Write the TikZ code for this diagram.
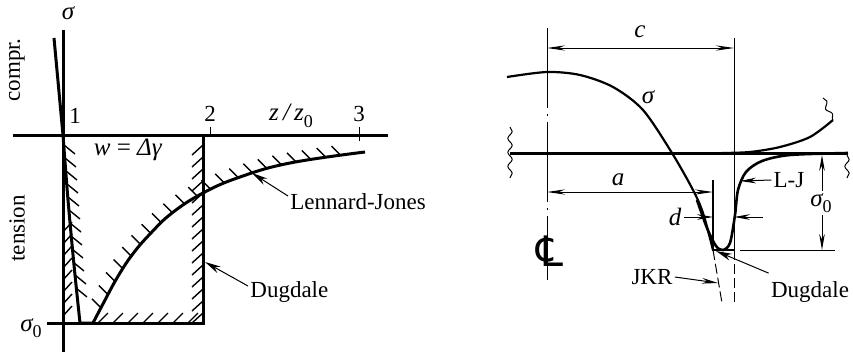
\documentclass[tikz,border=0pt]{standalone}
\usepackage{fontspec}
\setmainfont{Liberation Serif}
\newfontfamily\symfont{DejaVu Sans}
\usetikzlibrary{arrows.meta, decorations.markings, decorations.pathmorphing}

\newcommand{\lowsub}[1]{\raisebox{-0.55ex}{\upshape\small #1}}

\begin{document}
\begin{tikzpicture}[x=0.5pt, y=-0.5pt,
  every node/.style={font=\fontsize{11.5}{13}\selectfont, inner sep=1pt},
  lab/.style={font=\fontsize{12.5}{14}\selectfont\itshape},
  thickline/.style={line width=1.5pt},
  curveline/.style={line width=1.1pt},
  thinline/.style={line width=0.5pt},
  hatch/.style={line width=0.7pt},
  dimline/.style={thinline, {Stealth[length=9pt,width=2.6pt]}-{Stealth[length=9pt,width=2.6pt]}},
  dimarrow/.style={thinline, -{Stealth[length=8pt,width=2.8pt]}},
  leader/.style={thinline, -{Stealth[length=8pt,width=3.6pt]}},
  wavy/.style={thinline, decorate, decoration={snake, amplitude=1.1pt, segment length=7pt}},
]
\useasboundingbox (0,0) rectangle (853,354);

% ---------- Left: stress against separation ----------
\coordinate (sigtop) at (63,30);
\coordinate (sigbot) at (63,352);
\draw[thickline] (sigbot) -- (sigtop);
\node[lab] (sigl) at (68,13) {σ};

\coordinate (zleft) at (13,135);
\coordinate (zright) at (388,135);
\draw[thickline] (zleft) -- (zright);
\draw[thinline] (210,135) -- (210,127);
\draw[thinline] (359,127) -- (359,141);
\node (one) at (75,116) {1};
\node (two) at (210,114) {2};
\node (three) at (359,114) {3};
\node[lab] (zz) at (291,116) {z\,/\,z\lowsub{0}};

\node[rotate=90, anchor=west] (compr) at (17,104) {compr.};
\node[rotate=90, anchor=west] (tens) at (17,264) {tension};
\node[lab] (sig0l) at (31,328) {σ\lowsub{0}};

% Dugdale rectangle
\draw[thickline] (47,323) -- (203,323) -- (203,135);

% Lennard-Jones
\draw[thickline] (54,38) -- (63,135);
\draw[thickline] plot[smooth] coordinates {(63,135) (68,200) (74,265) (80,323)} -- (93,323);
\draw[thickline, postaction={decorate}, decoration={markings,
    mark=between positions 0.05 and 0.97 step 7.5pt with {\pgftransformresetnontranslations
      \draw[hatch] (0,0) -- (-4.5pt,4.5pt);}}]
  plot[smooth, tension=0.7] coordinates {(93,323) (104,302) (117,278) (132,255) (150,234) (172,213) (203,193) (240,177) (290,163) (365,152)};

% hatching
\foreach \y in {145,157,...,313} \draw[hatch] (203,\y) -- +(-11,10);
\foreach \x in {98,113,...,188} \draw[hatch] (\x,323) -- +(10,-10);
\foreach \y in {232,244,...,316} \draw[hatch] (63,\y) -- +(9,-10);
\foreach \x/\y in {64/145,65/158,66/171,67/184,68/197,69/210,70/223,71/236,72/249,73/262,75/275,76/288}
  \draw[hatch] (\x,\y) -- +(11,9);

\node (wdg) at (128,150) {\fontsize{12.5}{14}\selectfont\textit{w} = \textit{Δγ}};

\node[anchor=west] (ljtxt) at (288,202) {Lennard-Jones};
\coordinate (ljpt) at (252,173);
\draw[leader] ([yshift=3pt]ljtxt.west) -- (ljpt);

\node[anchor=west] (dugtxt) at (248,292) {Dugdale};
\coordinate (dugpt) at (205,262);
\draw[leader] ([yshift=3pt]dugtxt.west) -- (dugpt);

% ---------- Right: stress near the contact edge ----------
\coordinate (cltop) at (547,28);
\coordinate (clbot) at (547,280);
\draw[thinline, dash pattern=on 40pt off 3pt on 1pt off 3pt] (cltop) -- (clbot);
\node (clsym) at (550,251) {\fontsize{21}{22}\selectfont\symfont ℄};

\coordinate (ctop) at (734,38);
\coordinate (cbot) at (734,250);
\draw[thinline] (ctop) -- (cbot);
\coordinate (cdl) at (547,48);
\coordinate (cdr) at (734,48);
\draw[dimline] (cdl) -- (cdr);
\node[lab] (clab) at (640,32) {c};

\coordinate (axl) at (510,153);
\coordinate (axr) at (848,153);
\draw[thickline] (axl) -- (axr);
\draw[wavy] (510,127) -- (510,178);
\draw[wavy] (847,155) -- (847,178);
\draw[wavy] (823,98) -- (833,120);

% sigma
\draw[curveline] plot[smooth] coordinates {(507,77) (547,72) (580,75) (613,87) (643,110) (672,153) (693,190) (703,213) (713,250)};
\node[lab] (sigr) at (648,97) {σ};
\draw[curveline] plot[smooth] coordinates {(722,153) (750,152) (780,147) (810,137) (833,120)};
\draw[thinline, dash pattern=on 5pt off 2pt] (713,250) -- (722,303);
\draw[thinline, dash pattern=on 5pt off 2pt] (734,250) -- (734,303);

% Dugdale box
\draw[line width=0.8pt] (713,180) -- (713,250) -- (734,250);

% L-J
\draw[line width=1.3pt] plot[smooth] coordinates {(697,200) (707,228) (716,246) (723,250) (730,243) (735,215) (738,190) (746,172) (762,161) (790,155) (848,153)};

% a
\coordinate (adl) at (547,192);
\coordinate (adr) at (713,192);
\draw[dimline] (adl) -- (adr);
\node[lab] (alab) at (618,180) {a};

% d
\node[lab] (dlab) at (675,217) {d};
\coordinate (ddl) at (713,217);
\coordinate (ddr0) at (763,217);
\coordinate (ddr) at (734,217);
\draw[dimarrow] (dlab.east) -- (ddl);
\draw[dimarrow] (ddr0) -- (ddr);

\node (ljr) at (789,180) {L-J};
\coordinate (ljrpt) at (740,181);
\draw[dimarrow] (ljr.west) -- (ljrpt);

% sigma_0
\node[lab] (sig0r) at (821,203) {σ\lowsub{0}};
\coordinate (s0top) at (822,155);
\coordinate (s0bot) at (822,250);
\draw[dimarrow] (sig0r.north -| s0top) -- (s0top);
\draw[dimarrow] (sig0r.south -| s0bot) -- (s0bot);
\draw[thinline] (740,250) -- (835,250);

\node (jkr) at (652,277) {JKR};
\coordinate (jkrpt) at (718,283);
\draw[dimarrow] (jkr.east) -- (jkrpt);

\node (dugr) at (810,292) {Dugdale};
\coordinate (dugrpt) at (716,251);
\draw[leader] ([yshift=3pt]dugr.north west) -- (dugrpt);

\end{tikzpicture}
\end{document}
